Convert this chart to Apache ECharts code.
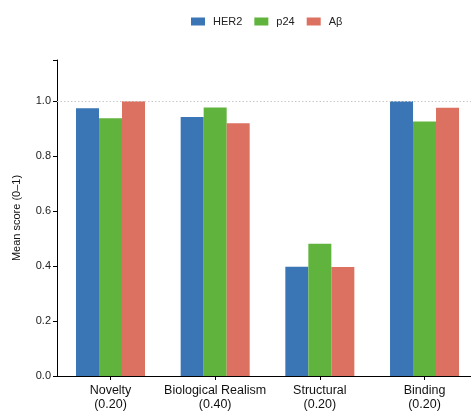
<!DOCTYPE html>
<html>
<head>
<meta charset="utf-8">
<script src="https://cdn.jsdelivr.net/npm/echarts@6/dist/echarts.min.js"></script>
<style>html,body{margin:0;padding:0;background:#fff}#c{width:471px;height:413px}</style>
</head>
<body>
<div id="c"></div>
<script>
const categories = ['Novelty\n(0.20)', 'Biological Realism\n(0.40)', 'Structural\n(0.20)', 'Binding\n(0.20)'];
const seriesNames = ['HER2', 'p24', 'Aβ'];
const her2 = [0.974, 0.943, 0.398, 1.0];
const p24 = [0.938, 0.977, 0.481, 0.926];
const abeta = [1.0, 0.920, 0.397, 0.976];
const yTicks = [0, 0.2, 0.4, 0.6, 0.8, 1.0];
const colors = ['#3a75b5', '#60b33c', '#dc7061'];

const chart = echarts.init(document.getElementById('c'), null, {renderer: 'canvas'});
const font = 'Liberation Sans, Arial, sans-serif';
const data = [her2, p24, abeta];
const catIdx = categories.map((c, i) => i);
chart.setOption({
  animation: false,
  textStyle: {fontFamily: font},
  color: colors,
  legend: {
    top: 11, left: 186, itemWidth: 14, itemHeight: 8, itemGap: 12,
    icon: 'rect',
    textStyle: {fontSize: 11, color: '#222', fontFamily: font, padding: [0, 0, 0, 3]},
    data: seriesNames
  },
  grid: {left: 57, top: 60, right: 0, bottom: 37},
  xAxis: {
    type: 'value', min: -0.511, max: 3.444,
    splitLine: {show: false},
    axisLine: {onZero: false, lineStyle: {color: '#000', width: 1}},
    axisTick: {show: true, customValues: catIdx, length: 4, lineStyle: {color: '#000'}},
    axisLabel: {customValues: catIdx, formatter: v => categories[Math.round(v)] || '',
      fontSize: 12.5, color: '#111', lineHeight: 14, margin: 8, fontFamily: font}
  },
  yAxis: {
    type: 'value', min: 0, max: 1.15, interval: 0.2,
    name: 'Mean score (0–1)', nameLocation: 'middle', nameGap: 35,
    nameTextStyle: {fontSize: 11, color: '#111', fontFamily: font},
    axisLine: {show: true, onZero: false, lineStyle: {color: '#000', width: 1}},
    axisTick: {show: true, length: 4, lineStyle: {color: '#000'}},
    splitLine: {show: false},
    axisLabel: {fontSize: 11, color: '#222', margin: 6, fontFamily: font,
      formatter: v => yTicks.some(t => Math.abs(t - v) < 1e-9) ? v.toFixed(1) : ''}
  },
  series: seriesNames.map((n, i) => ({
    name: n, type: 'bar', data: data[i].map((v, j) => [catIdx[j], v]),
    barGap: '0%', barWidth: 23,
    itemStyle: {color: colors[i]},
    markLine: i === 0 ? {
      silent: true, symbol: 'none', label: {show: false},
      lineStyle: {color: '#c8c8c8', type: [1.5, 2], width: 1},
      data: [{yAxis: 1.0}]
    } : undefined
  }))
});
</script>
</body>
</html>
